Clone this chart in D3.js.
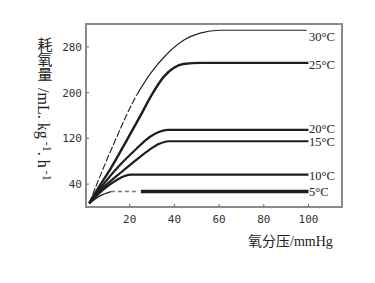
<!DOCTYPE html>
<html>
<head>
<meta charset="utf-8">
<script src="https://cdn.jsdelivr.net/npm/d3@7"></script>
<style>
  html, body { margin: 0; padding: 0; background: #fff; }
  svg { display: block; }
</style>
</head>
<body>
<div id="chart"></div>
<script>
// oxygen uptake vs oxygen partial pressure, one curve per temperature
const tempLabels = ["30°C", "25°C", "20°C", "15°C", "10°C", "5°C"];
const xTicks = [20, 40, 60, 80, 100];
const yTicks = [40, 120, 200, 280];

// [partial pressure mmHg, uptake]
const curve30 = [[1.9, 6.5], [5.7, 44], [9.4, 79], [14.6, 126], [18.6, 161], [23, 195], [29.4, 234], [36.8, 268], [44.3, 292], [51.5, 304], [60.4, 309], [99.2, 309]];
const curve25 = [[1.9, 6.5], [6.4, 36], [11.6, 68], [18.3, 114], [25, 161], [29.4, 193], [35.3, 228], [40, 244], [44, 250], [52, 252], [100, 252]];
const curve20 = [[1.9, 6.5], [7.9, 38], [15.3, 72], [22.8, 101], [28.8, 122], [33, 131], [37, 135], [100, 135]];
const curve15 = [[1.9, 6.5], [8, 33], [16.9, 63], [22.8, 82], [28.8, 100], [33, 110], [37.5, 115], [100, 115]];
const curve10 = [[1.9, 6.5], [6.4, 24], [10.9, 38.5], [16.9, 53], [20.5, 56.5], [100, 56.5]];
const curve5 = [[1.9, 6.5], [6.5, 19], [11.6, 27], [23.6, 27], [25, 27], [100, 27]];

const W = 375, H = 283;
const frame = { left: 86, right: 342, top: 24, bottom: 207 };

const svg = d3.select("#chart").append("svg")
    .attr("width", W)
    .attr("height", H);

const x = d3.scaleLinear().domain([0, 115]).range([85, 342]);
const y = d3.scaleLinear().domain([0, 320]).range([207, 24]);

const line = d3.line()
    .x(d => x(d[0]))
    .y(d => y(d[1]))
    .curve(d3.curveMonotoneX);

// frame
svg.append("rect")
    .attr("x", frame.left)
    .attr("y", frame.top)
    .attr("width", frame.right - frame.left)
    .attr("height", frame.bottom - frame.top)
    .attr("fill", "none")
    .attr("stroke", "#8a8a8a")
    .attr("stroke-width", 2);

// inward tick marks
svg.append("g").selectAll("line")
    .data(xTicks)
    .enter().append("line")
    .attr("x1", d => x(d)).attr("x2", d => x(d))
    .attr("y1", frame.bottom).attr("y2", frame.bottom - 3)
    .attr("stroke", "#666").attr("stroke-width", 1);

svg.append("g").selectAll("line")
    .data(yTicks)
    .enter().append("line")
    .attr("x1", frame.left).attr("x2", frame.left + 3)
    .attr("y1", d => y(d)).attr("y2", d => y(d))
    .attr("stroke", "#666").attr("stroke-width", 1);

// tick labels
svg.append("g").selectAll("text")
    .data(xTicks)
    .enter().append("text")
    .attr("x", d => x(d))
    .attr("y", 223)
    .attr("text-anchor", "middle")
    .style("font-family", "'DejaVu Sans Mono', monospace")
    .style("font-size", "11px")
    .attr("fill", "#333")
    .text(d => d);

svg.append("g").selectAll("text")
    .data(yTicks)
    .enter().append("text")
    .attr("x", 82)
    .attr("y", d => y(d) + 4)
    .attr("text-anchor", "end")
    .style("font-family", "'DejaVu Sans Mono', monospace")
    .style("font-size", "11px")
    .attr("fill", "#333")
    .text(d => d);

// curves
const ink = "#1e1e1e";

function drawPath(data, width, dash, color) {
    svg.append("path")
        .datum(data)
        .attr("fill", "none")
        .attr("stroke", color || ink)
        .attr("stroke-width", width)
        .attr("stroke-dasharray", dash || null)
        .attr("d", line);
}

// 30°C: broken in its lower part, thin solid above
drawPath(curve30.filter(d => d[0] <= 23), 1.1, "7,2");
drawPath(curve30.filter(d => d[0] >= 23), 1.1);
drawPath(curve25, 2.4);
drawPath(curve20, 2.2);
drawPath(curve15, 2.2);
drawPath(curve10, 2.2);
// 5°C: thin start, dashed grey gap, thick plateau
drawPath(curve5.filter(d => d[0] <= 11.6), 1.4);
drawPath(curve5.filter(d => d[0] >= 11.6 && d[0] <= 23.6), 1.6, "4,3", "#777");
drawPath(curve5.filter(d => d[0] >= 25), 3.6);

// right-side labels (baselines nudged so 20 and 15 sit apart)
const labelY = [41, 69, 133, 146, 180, 196];
svg.append("g").selectAll("text")
    .data(tempLabels)
    .enter().append("text")
    .attr("x", 309)
    .attr("y", (d, i) => labelY[i])
    .style("font-family", "'Liberation Serif', 'Times New Roman', serif")
    .style("font-size", "12.5px")
    .attr("fill", "#222")
    .text(d => d);

// axis titles
svg.append("text")
    .attr("x", 248)
    .attr("y", 246)
    .style("font-family", "'Noto Sans CJK SC', sans-serif")
    .style("font-size", "14px")
    .attr("fill", "#222")
    .text("氧分压")
    .append("tspan")
    .style("font-family", "'Liberation Serif', serif")
    .text("/mmHg");

svg.append("text")
    .attr("x", 45)
    .attr("y", 37)
    .style("writing-mode", "vertical-rl")
    .style("font-family", "'Noto Sans CJK SC', sans-serif")
    .style("font-size", "15px")
    .attr("fill", "#222")
    .text("耗氧量");

const unit = svg.append("text")
    .attr("transform", "translate(38,88) rotate(90)")
    .style("font-family", "'Liberation Serif', serif")
    .style("font-size", "16px")
    .attr("fill", "#222");
unit.append("tspan").text("/mL. kg");
unit.append("tspan").attr("dy", -5).style("font-size", "12px").text(" -1");
unit.append("tspan").attr("dy", 5).text(". h");
unit.append("tspan").attr("dy", -5).style("font-size", "12px").text(" -1");
</script>
</body>
</html>
